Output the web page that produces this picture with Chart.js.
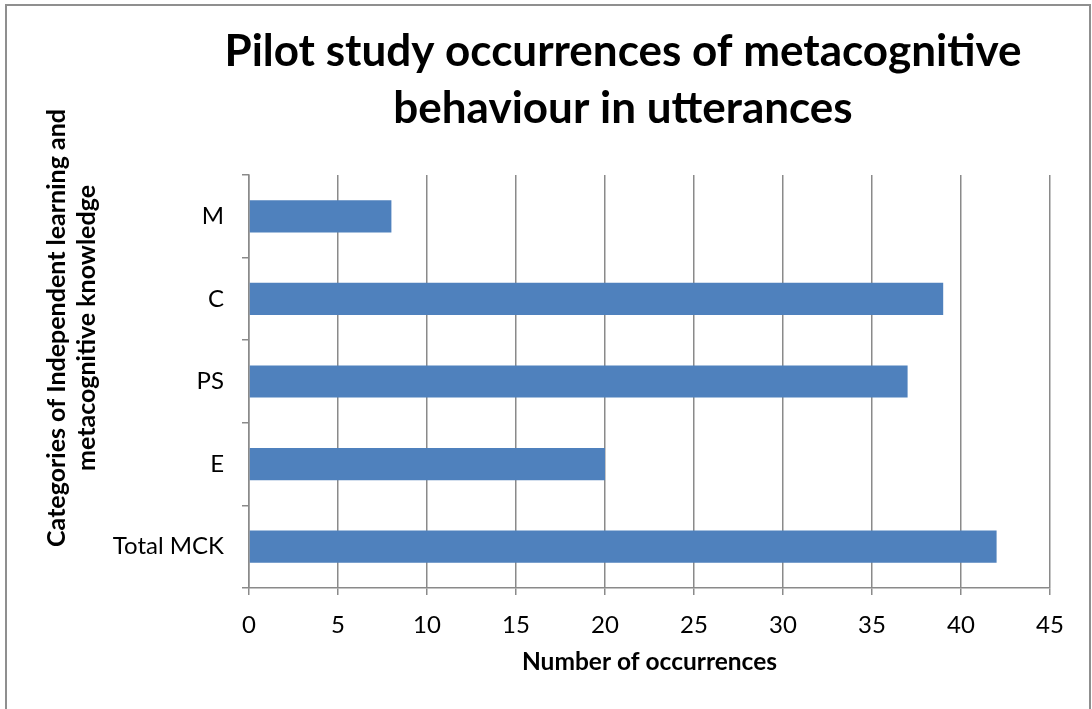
<!DOCTYPE html>
<html>
<head>
<meta charset="utf-8">
<script src="https://cdn.jsdelivr.net/npm/chart.js@4"></script>
<style>
    body { margin: 0; background: #fff; }
    #wrap { position: relative; width: 1092px; height: 709px; overflow: hidden; }
    #frame {
        position: absolute; left: 5px; top: 4px; width: 1086px; height: 720px;
        border: 2px solid #8f8f8f; border-bottom: none; box-sizing: border-box;
        pointer-events: none;
    }
    canvas { position: absolute; left: 0; top: 0; }
</style>
</head>
<body>
<div id="wrap">
    <canvas id="occChart" width="1092" height="709"></canvas>
    <div id="frame"></div>
</div>
<script>
    // Chart data
    const categories = ['M', 'C', 'PS', 'E', 'Total MCK'];
    const occurrences = [8, 39, 37, 20, 42];
    const xTicks = [0, 5, 10, 15, 20, 25, 30, 35, 40, 45];

    const titleLines = ['Pilot study occurrences of metacognitive', 'behaviour in utterances'];
    const yTitleLines = ['Categories of Independent learning and', 'metacognitive knowledge'];
    const xTitle = 'Number of occurrences';

    const FONT = 'Lato';

    // Title and rotated y-axis title drawn by hand
    const textPlugin = {
        id: 'textPlugin',
        afterDraw(chart) {
            const c = chart.ctx;
            c.save();
            c.fillStyle = '#000';
            c.textAlign = 'center';
            c.textBaseline = 'alphabetic';
            c.font = 'bold 44px ' + FONT;
            c.fillText(titleLines[0], 623, 66);
            c.fillText(titleLines[1], 623, 123);

            c.translate(0, 328);
            c.rotate(-Math.PI / 2);
            c.font = 'bold 25px ' + FONT;
            c.fillText(yTitleLines[0], 0, 65);
            c.fillText(yTitleLines[1], 0, 95);
            c.restore();
        }
    };

    const ctx = document.getElementById('occChart').getContext('2d');
    new Chart(ctx, {
        type: 'bar',
        data: {
            labels: categories,
            datasets: [{
                data: occurrences,
                backgroundColor: '#4f81bd',
                borderWidth: 0,
                categoryPercentage: 1,
                barPercentage: 0.39
            }]
        },
        options: {
            indexAxis: 'y',
            responsive: false,
            animation: false,
            layout: {
                padding: { top: 175, right: 42, bottom: 0, left: 0 }
            },
            plugins: {
                legend: { display: false },
                tooltip: { enabled: false }
            },
            scales: {
                x: {
                    min: 0,
                    max: 45,
                    afterFit: s => { s.height = 121; },
                    afterBuildTicks: s => { s.ticks = xTicks.map(v => ({ value: v })); },
                    grid: {
                        color: '#8a8a8a',
                        lineWidth: 1.5,
                        tickLength: 7
                    },
                    border: { color: '#8a8a8a', width: 1.5 },
                    ticks: {
                        color: '#000',
                        padding: 16,
                        font: { family: FONT, size: 24 }
                    },
                    title: {
                        display: true,
                        text: xTitle,
                        color: '#000',
                        padding: { top: 0, bottom: 32 },
                        font: { family: FONT, size: 24.5, weight: 'bold' }
                    }
                },
                y: {
                    afterFit: s => { s.width = 249; },
                    grid: {
                        drawOnChartArea: false,
                        color: '#8a8a8a',
                        lineWidth: 1.5,
                        tickLength: 7
                    },
                    border: { color: '#8a8a8a', width: 1.5 },
                    ticks: {
                        color: '#000',
                        padding: 18,
                        font: { family: FONT, size: 24 }
                    }
                }
            }
        },
        plugins: [textPlugin]
    });
</script>
</body>
</html>
